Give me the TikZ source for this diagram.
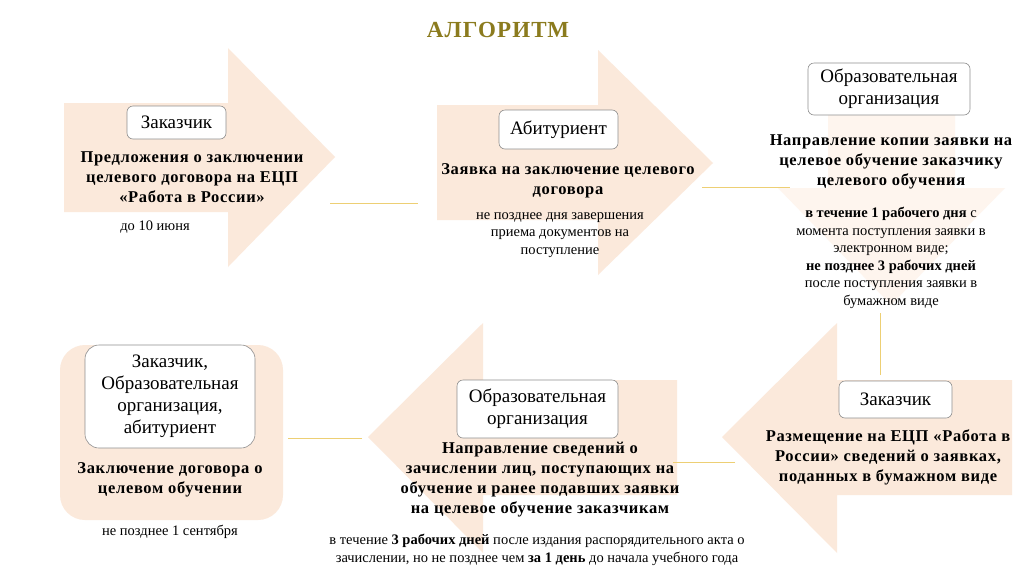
\documentclass[tikz,border=0pt]{standalone}
\usepackage{fontspec}
\setmainfont{Liberation Serif}
\definecolor{peach}{HTML}{FBE9DB}
\definecolor{peachlight}{HTML}{FEF5EE}
\definecolor{linkgold}{HTML}{EDCF74}
\definecolor{titleolive}{HTML}{8B7B1E}
\definecolor{boxgray}{HTML}{8E8E8E}
\begin{document}
\begin{tikzpicture}[x=1pt,y=-1pt,
  bigarrow/.style={fill=peach,draw=none},
  faintarrow/.style={fill=peachlight,draw=none},
  link/.style={draw=linkgold,line width=1pt},
  role/.style={draw=boxgray,fill=white,rounded corners=6pt,line width=0.6pt,
    font=\fontsize{19}{22}\selectfont,align=center,inner sep=0pt},
  action/.style={font=\fontsize{16.5}{20}\selectfont\bfseries\addfontfeature{LetterSpace=4},align=center,inner sep=0pt},
  note/.style={font=\fontsize{14.5}{17.5}\selectfont,align=center,inner sep=0pt}]
\useasboundingbox (0,0) rectangle (1024,576);
\fill[white] (0,0) rectangle (1024,576);
% title
\node[font=\fontsize{23}{26}\selectfont\bfseries\addfontfeature{LetterSpace=5},text=titleolive,inner sep=0pt] (title) at (498,30) {АЛГОРИТМ};
% shapes
\fill[bigarrow] (64,103) -- (228,103) -- (228,48) -- (335,157) -- (228,267) -- (228,212) -- (64,212) -- cycle;
\fill[bigarrow] (437,105) -- (598,105) -- (598,50) -- (713,163) -- (598,275) -- (598,220) -- (437,220) -- cycle;
\fill[faintarrow] (828,80) -- (955,80) -- (955,188) -- (1005,188) -- (891,305) -- (778,188) -- (828,188) -- cycle;
\fill[bigarrow] (1012,380) -- (837,380) -- (837,323) -- (722,437) -- (837,553) -- (837,495) -- (1012,495) -- cycle;
\fill[bigarrow] (677,380) -- (483,380) -- (483,323) -- (368,437) -- (483,553) -- (483,495) -- (677,495) -- cycle;
\fill[peach,rounded corners=25pt] (60,345) rectangle (283,520);
% connectors
\coordinate (c1a) at (330,203); \coordinate (c1b) at (418,203);
\coordinate (c2a) at (702,187); \coordinate (c2b) at (790,187);
\coordinate (c3a) at (880,313); \coordinate (c3b) at (880,375);
\coordinate (c4a) at (735,462); \coordinate (c4b) at (673,462);
\coordinate (c5a) at (362,438); \coordinate (c5b) at (288,438);
\draw[link] (c1a) -- (c1b);
\draw[link] (c2a) -- (c2b);
\draw[link] (c3a) -- (c3b);
\draw[link] (c4a) -- (c4b);
\draw[link] (c5a) -- (c5b);
% role boxes
\node[role,minimum width=99pt,minimum height=33pt] (r1) at (176.5,122.5) {Заказчик};
\node[role,minimum width=119pt,minimum height=39pt] (r2) at (558.5,129.5) {Абитуриент};
\node[role,minimum width=162pt,minimum height=52pt] (r3) at (889,89) {Образовательная\\организация};
\node[role,minimum width=113pt,minimum height=37pt] (r4) at (895.5,399.5) {Заказчик};
\node[role,minimum width=161pt,minimum height=58pt] (r5) at (537.5,409) {Образовательная\\организация};
\node[role,minimum width=170pt,minimum height=103pt,rounded corners=14pt] (r6) at (170,396.5) {Заказчик,\\Образовательная\\организация,\\абитуриент};
% actions
\node[action] (a1) at (192,177) {Предложения о заключении\\целевого договора на ЕЦП\\«Работа в России»};
\node[note] (n1) at (155,227) {до 10 июня};
\node[action] (a2) at (568,181) {Заявка на заключение целевого\\договора};
\node[note] (n2) at (560,235) {не позднее дня завершения\\приема документов на\\поступление};
\node[action] (a3) at (891,162) {Направление копии заявки на\\целевое обучение заказчику\\целевого обучения};
\node[note] (n3) at (891,258) {\textbf{в течение 1 рабочего дня} с\\момента поступления заявки в\\электронном виде;\\\textbf{не позднее 3 рабочих дней}\\после поступления заявки в\\бумажном виде};
\node[action] (a4) at (888,457) {Размещение на ЕЦП «Работа в\\России» сведений о заявках,\\поданных в бумажном виде};
\node[action] (a5) at (540,480) {Направление сведений о\\зачислении лиц, поступающих на\\обучение и ранее подавших заявки\\на целевое обучение заказчикам};
\node[note] (n5) at (537,550) {в течение \textbf{3 рабочих дней} после издания распорядительного акта о\\зачислении, но не позднее чем \textbf{за 1 день} до начала учебного года};
\node[action] (a6) at (170,480) {Заключение договора о\\целевом обучении};
\node[note] (n6) at (170,532) {не позднее 1 сентября};
\end{tikzpicture}
\end{document}
